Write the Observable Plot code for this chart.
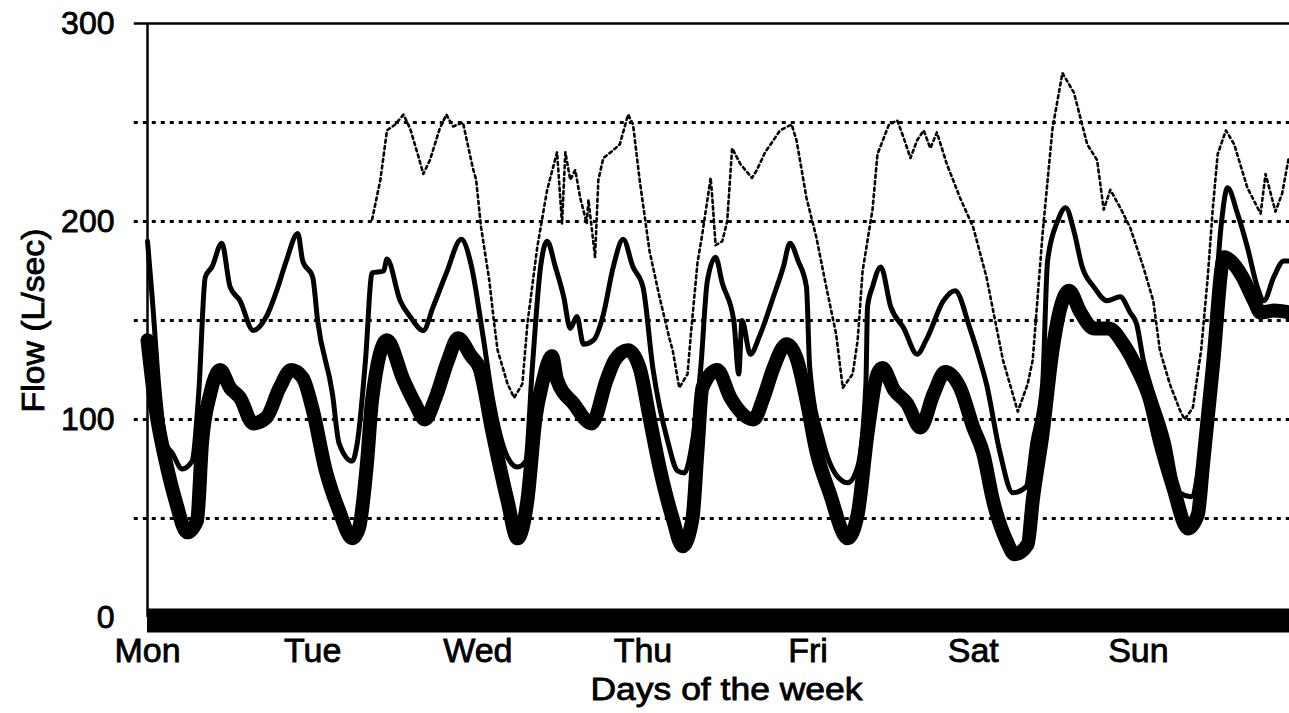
<!DOCTYPE html>
<html>
<head>
<meta charset="utf-8">
<script src="https://cdn.jsdelivr.net/npm/d3@7"></script>
<script src="https://cdn.jsdelivr.net/npm/@observablehq/plot@0.6"></script>
<style>
  html, body { margin: 0; padding: 0; background: #fff; }
  #chart svg { display: block; }
</style>
</head>
<body>
<div id="chart"></div>
<script>
// ---- data (time in days from Monday 00:00, flow in L/sec) ----
const dayLabels = ["Mon", "Tue", "Wed", "Thu", "Fri", "Sat", "Sun"];
const dayTicks = [0, 1, 2, 3, 4, 5, 6];
const yTicks = [0, 100, 200, 300];
const gridLines = [50, 100, 150, 200, 250];
const xMax = 6.915;
const yLabel = "Flow (L/sec)";
const xLabel = "Days of the week";

// thick solid series
const thickDay = [0.00,0.05,0.11,0.17,0.24,0.30,0.33,0.38,0.44,0.50,0.56,0.64,0.72,0.80,0.87,0.94,1.00,1.08,1.16,1.24,1.28,1.33,1.36,1.45,1.55,1.62,1.68,1.74,1.82,1.88,1.96,2.01,2.09,2.18,2.24,2.30,2.35,2.39,2.45,2.48,2.58,2.69,2.78,2.83,2.91,2.98,3.04,3.10,3.18,3.24,3.30,3.33,3.36,3.45,3.53,3.67,3.73,3.79,3.87,3.93,3.99,4.05,4.13,4.24,4.30,4.36,4.42,4.45,4.52,4.60,4.68,4.76,4.83,4.92,5.00,5.06,5.12,5.20,5.25,5.33,5.36,5.42,5.48,5.53,5.58,5.65,5.73,5.82,5.91,5.99,6.07,6.13,6.21,6.30,6.36,6.39,6.45,6.52,6.56,6.63,6.70,6.74,6.82,6.92];
const thickFlow = [140,105,79,59,43,49,88,113,125,116,111,98,101,116,125,121,105,74,54,40,45,79,110,140,120,108,100,110,130,141,132,126,93,59,40,59,101,118,132,120,108,98,120,130,135,126,101,76,50,36,50,84,116,125,111,100,111,126,138,131,110,84,63,40,52,93,123,126,115,108,96,113,124,116,96,83,59,39,32,37,59,93,135,157,165,154,146,146,138,126,110,89,66,45,52,76,126,182,180,172,160,154,155,154];

// medium solid series
const midDay = [0.00,0.03,0.07,0.11,0.15,0.21,0.27,0.31,0.35,0.39,0.45,0.50,0.56,0.64,0.72,0.79,0.84,0.91,0.94,1.00,1.03,1.12,1.16,1.24,1.27,1.32,1.36,1.43,1.45,1.53,1.59,1.67,1.73,1.81,1.90,1.96,2.03,2.09,2.18,2.24,2.29,2.33,2.38,2.42,2.47,2.52,2.56,2.60,2.64,2.70,2.76,2.82,2.88,2.94,3.00,3.06,3.15,3.21,3.25,3.30,3.35,3.39,3.44,3.48,3.55,3.58,3.60,3.65,3.71,3.79,3.85,3.89,3.94,3.99,4.01,4.09,4.18,4.24,4.30,4.35,4.36,4.39,4.44,4.50,4.58,4.66,4.72,4.82,4.89,4.98,5.04,5.08,5.16,5.24,5.32,5.36,5.42,5.45,5.51,5.56,5.61,5.66,5.73,5.81,5.89,5.95,5.99,6.03,6.07,6.18,6.25,6.32,6.38,6.44,6.50,6.54,6.60,6.66,6.72,6.76,6.82,6.88,6.92];
const midFlow = [190,160,115,88,83,75,79,113,172,177,189,167,160,145,152,167,180,194,180,172,150,113,88,79,88,130,174,175,181,160,152,145,157,174,191,178,143,110,81,76,79,126,177,190,177,162,146,152,138,140,153,177,191,177,167,126,89,74,73,89,126,170,182,169,150,123,150,133,143,162,177,189,180,167,126,89,71,68,76,118,157,167,177,157,146,133,141,160,165,146,130,118,84,63,66,88,118,180,200,207,195,177,167,160,162,154,148,130,118,89,63,61,84,126,197,217,204,187,167,160,172,180,180];

// thin dotted series
const dotDay = [1.36,1.41,1.45,1.50,1.55,1.59,1.64,1.67,1.71,1.77,1.81,1.85,1.91,1.97,1.99,2.02,2.07,2.10,2.12,2.18,2.22,2.27,2.30,2.36,2.42,2.48,2.51,2.53,2.56,2.59,2.62,2.66,2.67,2.71,2.73,2.76,2.82,2.86,2.91,2.94,2.98,3.04,3.10,3.16,3.18,3.22,3.27,3.29,3.33,3.36,3.41,3.42,3.44,3.48,3.51,3.54,3.59,3.66,3.69,3.74,3.79,3.83,3.90,3.93,3.99,4.05,4.11,4.17,4.21,4.27,4.30,4.33,4.39,4.42,4.49,4.54,4.58,4.62,4.66,4.70,4.74,4.78,4.84,4.92,5.00,5.08,5.18,5.27,5.33,5.36,5.42,5.48,5.54,5.61,5.69,5.75,5.79,5.83,5.89,5.95,6.03,6.09,6.13,6.19,6.25,6.28,6.33,6.38,6.42,6.45,6.48,6.53,6.58,6.66,6.74,6.77,6.83,6.87,6.91];
const dotFlow = [201,221,246,249,254,247,233,224,231,247,254,248,250,227,221,197,170,148,135,118,111,118,148,187,216,235,199,235,221,226,212,199,211,182,221,232,236,239,254,249,221,185,162,141,135,116,123,143,179,194,222,212,188,190,200,237,229,222,226,235,241,246,249,241,212,192,167,143,116,123,140,175,206,234,249,251,242,232,241,246,237,245,229,212,197,172,130,104,118,130,194,247,275,265,239,231,206,216,207,197,177,160,135,118,105,100,106,135,172,206,234,246,239,217,204,224,205,214,232];

// ---- build tables ----
const thick = thickDay.map((d, i) => ({day: d, flow: thickFlow[i]}));
const mid = midDay.map((d, i) => ({day: d, flow: midFlow[i]}));
const dots = dotDay.map((d, i) => ({day: d, flow: dotFlow[i]}));

const font = "'Liberation Sans', Arial, Helvetica, sans-serif";
const gridStart = -0.08;

const chart = Plot.plot({
  width: 1289,
  height: 713,
  marginLeft: 147,
  marginRight: 0,
  marginTop: 23,
  marginBottom: 96,
  style: {fontFamily: font, background: "#fff", color: "#000"},
  x: {domain: [0, xMax]},
  y: {domain: [0, 300]},
  marks: [
    Plot.ruleY(gridLines, {x1: gridStart, x2: xMax, stroke: "#000", strokeWidth: 3, strokeDasharray: "4,5"}),
    Plot.ruleY([300], {x1: gridStart, x2: xMax, stroke: "#000", strokeWidth: 2.5}),
    Plot.ruleX([0], {stroke: "#000", strokeWidth: 2.5}),
    Plot.ruleY([0], {x1: 0, x2: xMax, stroke: "#000", strokeWidth: 24, dy: 3}),
    Plot.line(dots, {x: "day", y: "flow", stroke: "#000", strokeWidth: 2.6, strokeDasharray: "3,3.5"}),
    Plot.line(mid, {x: "day", y: "flow", stroke: "#000", strokeWidth: 5, curve: "monotone-x", strokeLinejoin: "round"}),
    Plot.line(thick, {x: "day", y: "flow", stroke: "#000", strokeWidth: 14, curve: "monotone-x", strokeLinejoin: "round", strokeLinecap: "round"}),
    Plot.axisY({ticks: yTicks, tickSize: 0, tickPadding: 33, fontSize: 32, label: null}),
    Plot.axisX({ticks: dayTicks, tickFormat: (d) => dayLabels[d], tickSize: 0, tickPadding: 20, fontSize: 34, label: null}),
    Plot.text([yLabel], {frameAnchor: "left", textAnchor: "middle", lineAnchor: "middle", dx: -113, rotate: -90, fontSize: 31, fill: "#000"}),
    Plot.text([xLabel], {frameAnchor: "bottom", textAnchor: "middle", lineAnchor: "middle", dx: 8, dy: 73, fontSize: 31, fill: "#000"})
  ]
});
document.getElementById("chart").appendChild(chart);

// stretch the two axis titles to the reference's measured lengths
d3.select(chart).selectAll("text")
  .filter(function () { return this.textContent === yLabel; })
  .attr("textLength", 184).attr("lengthAdjust", "spacingAndGlyphs");
d3.select(chart).selectAll("text")
  .filter(function () { return this.textContent === xLabel; })
  .attr("textLength", 272).attr("lengthAdjust", "spacingAndGlyphs");
// heavier, scan-like lettering
d3.select(chart).selectAll("text")
  .style("stroke", "#000").style("stroke-width", "0.8px").style("paint-order", "stroke");
</script>
</body>
</html>
